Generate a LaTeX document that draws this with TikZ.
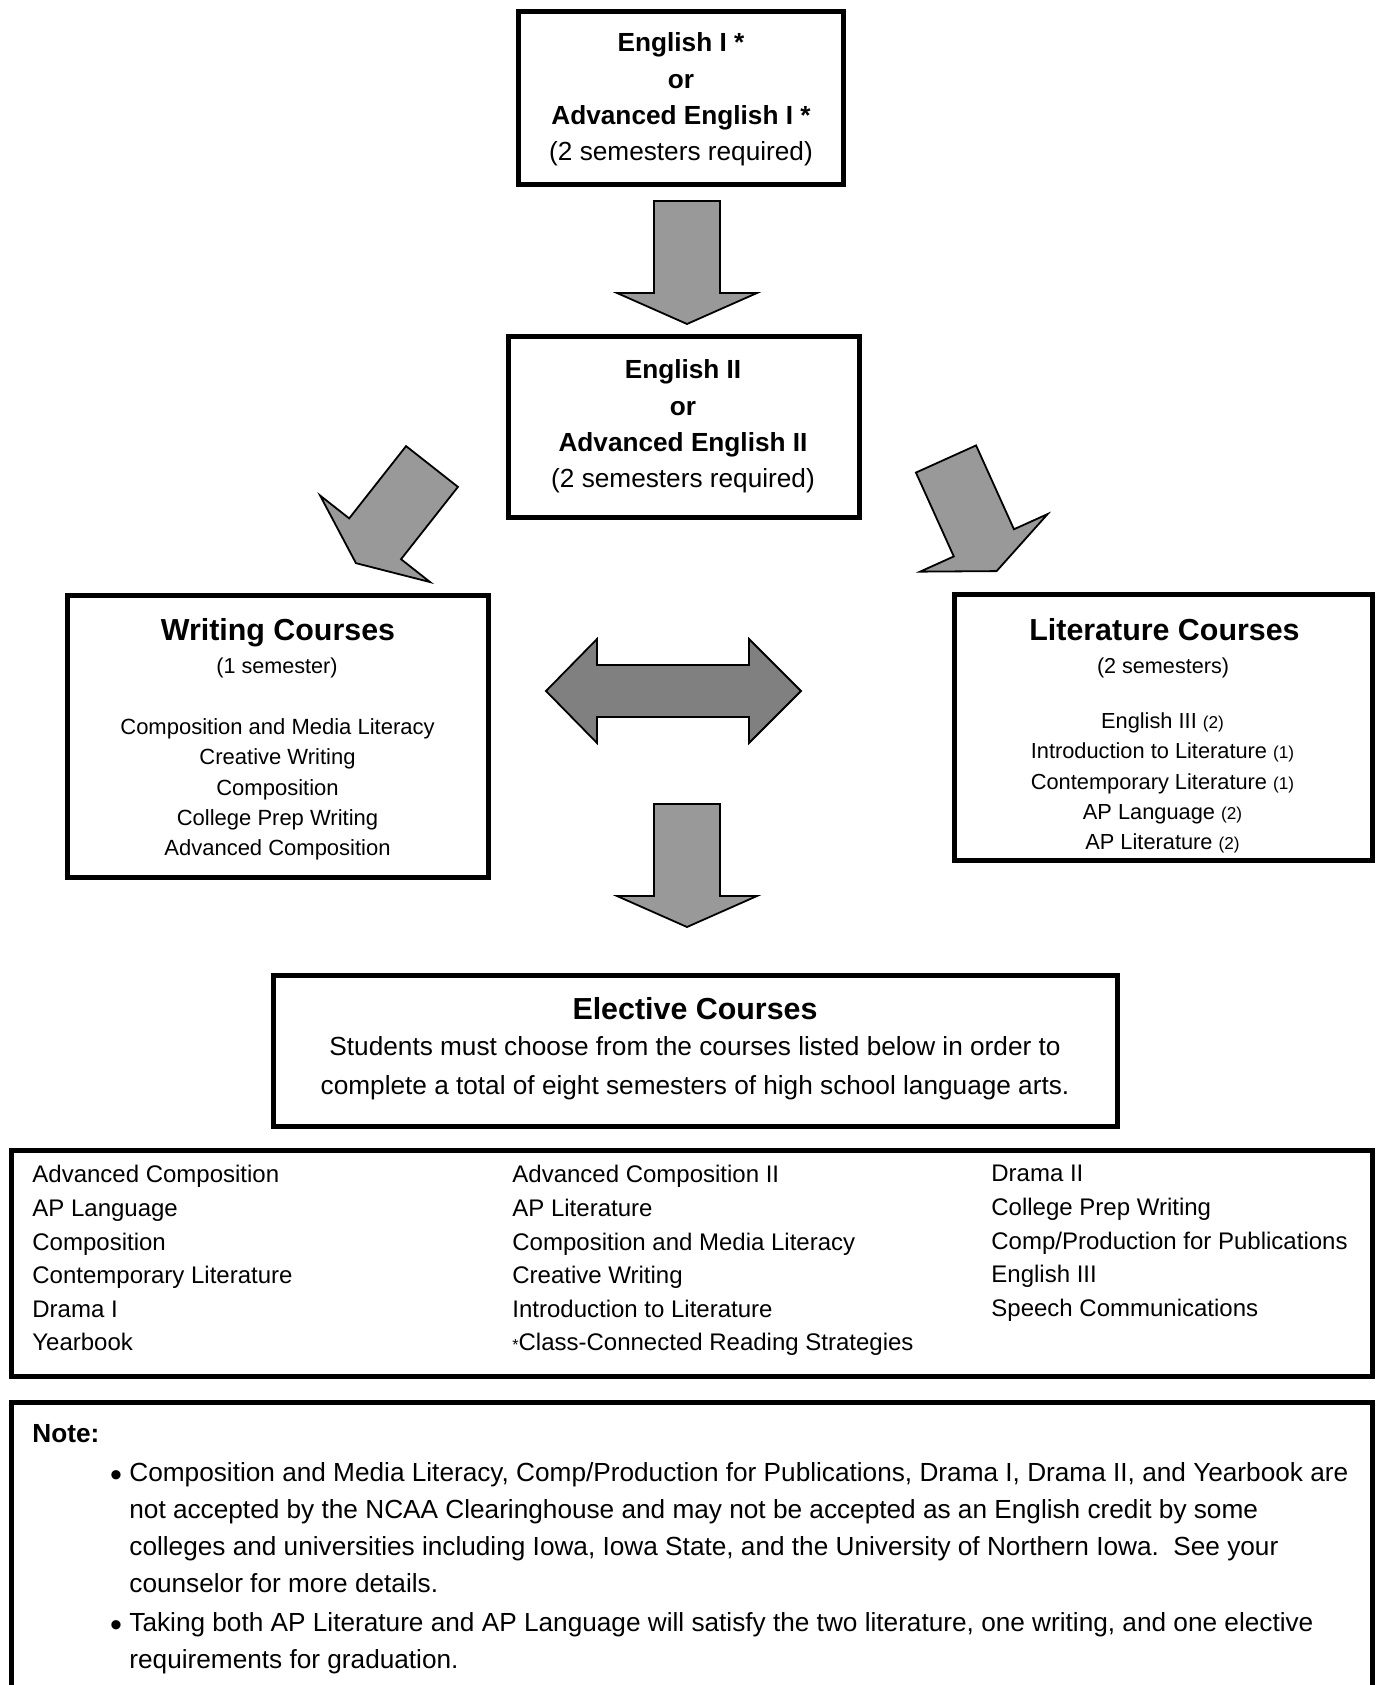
\documentclass[tikz,border=0pt]{standalone}
\usepackage{fontspec}
\setmainfont{Liberation Sans}
\definecolor{arrowgray}{RGB}{153,153,153}
\definecolor{arrowdark}{RGB}{128,128,128}
\tikzset{
  frame/.style={draw=black,line width=2.5pt,inner sep=0pt,outer sep=0pt},
  blockfill/.style={draw=black,line width=0.9pt,line join=miter},
  boxtext/.style={align=center,inner sep=0pt,font=\fontsize{13.1}{18.1}\selectfont},
  titletext/.style={anchor=base,inner sep=0pt,font=\bfseries\fontsize{15.2}{18}\selectfont},
  subtext/.style={inner sep=0pt,font=\fontsize{10.8}{13}\selectfont},
  listtext/.style={align=center,inner sep=0pt,font=\fontsize{11}{15.15}\selectfont},
  electtext/.style={align=left,inner sep=0pt,anchor=north west,font=\fontsize{12}{16.8}\selectfont},
  notetext/.style={align=left,inner sep=0pt,anchor=north west,font=\fontsize{13.1}{18.4}\selectfont},
  bullet/.style={anchor=base,inner sep=0pt,font=\fontsize{17}{18}\selectfont},
  blockarrow/.pic={
    \draw[blockfill,fill=arrowgray] (-33,0) -- (33,0) -- (33,92) -- (70,92)
      -- (0,123) -- (-70,92) -- (-33,92) -- cycle;
  }
}
\newcommand{\cnt}[1]{{\fontsize{8.6}{15.2}\selectfont #1}}
\begin{document}
\begin{tikzpicture}[x=0.5pt,y=-0.5pt]
\useasboundingbox (0,0) rectangle (1377,1685);
\clip (0,0) rectangle (1377,1685);

% ---- frames ----
\node[frame,minimum width=162.5pt,minimum height=86.7pt] (eng1) at (681,97.8) {};
\node[frame,minimum width=175.5pt,minimum height=90.5pt] (eng2) at (684,427) {};
\node[frame,minimum width=210.5pt,minimum height=141pt] (writing) at (278,736) {};
\node[frame,minimum width=209pt,minimum height=133pt] (lit) at (1163.5,727.5) {};
\node[frame,minimum width=422pt,minimum height=75.5pt] (elective) at (695.5,1051) {};
\node[frame,minimum width=680.7pt,minimum height=113pt] (electlist) at (691.8,1263.5) {};
\draw[line width=2.5pt] (11.1,1720) -- (11.1,1402.5) -- (1372.5,1402.5) -- (1372.5,1720);

% ---- block arrows ----
\pic (downA) at (687,201) {blockarrow};
\pic (diagL) [rotate=-38.2] at (432,466.5) {blockarrow};
\pic (diagR) [rotate=24.3] at (946,459) {blockarrow};
\pic (downB) at (687,804) {blockarrow};
\draw[blockfill,fill=arrowdark] (546,691) -- (597,639) -- (597,665) -- (749,665)
  -- (749,639) -- (801,691) -- (749,743) -- (749,717) -- (597,717) -- (597,743) -- cycle;

% ---- English I / II ----
\node[boxtext] (eng1txt) at (681,99.5)
  {\textbf{English I *}\\\textbf{or}\\\textbf{Advanced English I *}\\(2 semesters required)};
\node[boxtext] (eng2txt) at (683,426.5)
  {\textbf{English II}\\\textbf{or}\\\textbf{Advanced English II}\\(2 semesters required)};

% ---- Writing courses ----
\node[titletext] (wtitle) at (278,640) {Writing Courses};
\node[subtext] (wsub) at (277,667.5) {(1 semester)};
\node[listtext] (wlist) at (277.5,789.5)
  {Composition and Media Literacy\\Creative Writing\\Composition\\College Prep Writing\\Advanced Composition};

% ---- Literature courses ----
\node[titletext] (ltitle) at (1164.5,640) {Literature Courses};
\node[subtext] (lsub) at (1163,667.5) {(2 semesters)};
\node[listtext,font=\fontsize{10.9}{15.2}\selectfont] (llist) at (1162.5,783)
  {English III \cnt{(2)}\\Introduction to Literature \cnt{(1)}\\Contemporary Literature \cnt{(1)}\\AP Language \cnt{(2)}\\AP Literature \cnt{(2)}};

% ---- Elective courses ----
\node[titletext] (etitle) at (695,1019) {Elective Courses};
\node[boxtext,font=\fontsize{13.1}{19.35}\selectfont] (ebody) at (695,1068.5)
  {Students must choose from the courses listed below in order to\\complete a total of eight semesters of high school language arts.};

\node[electtext] (colA) at (32,1165)
  {Advanced Composition\\AP Language\\Composition\\Contemporary Literature\\Drama I\\Yearbook};
\node[electtext] (colB) at (512,1165)
  {Advanced Composition II\\AP Literature\\Composition and Media Literacy\\Creative Writing\\Introduction to Literature\\{\fontsize{8}{10}\selectfont*}Class-Connected Reading Strategies};
\node[electtext] (colC) at (991,1165)
  {Drama II\\College Prep Writing\\Comp/Production for Publications\\English III\\Speech Communications};

% ---- Note ----
\node[anchor=base west,inner sep=0pt,font=\bfseries\fontsize{13.1}{18}\selectfont] (notehead) at (32,1442.4) {Note:};
\node[bullet] (bulA) at (116,1486) {\textbullet};
\node[bullet] (bulB) at (116,1636) {\textbullet};
\node[notetext] (noteA) at (129,1462.4)
  {Composition and Media Literacy, Comp/Production for Publications, Drama I, Drama II, and Yearbook are\\
   not accepted by the NCAA Clearinghouse and may not be accepted as an English credit by some\\
   colleges and universities including Iowa, Iowa State, and the University of Northern Iowa.\ \ See your\\
   counselor for more details.};
\node[notetext] (noteB) at (129,1612.4)
  {Taking both AP Literature and AP Language will satisfy the two literature, one writing, and one elective\\
   requirements for graduation.};
\end{tikzpicture}
\end{document}
